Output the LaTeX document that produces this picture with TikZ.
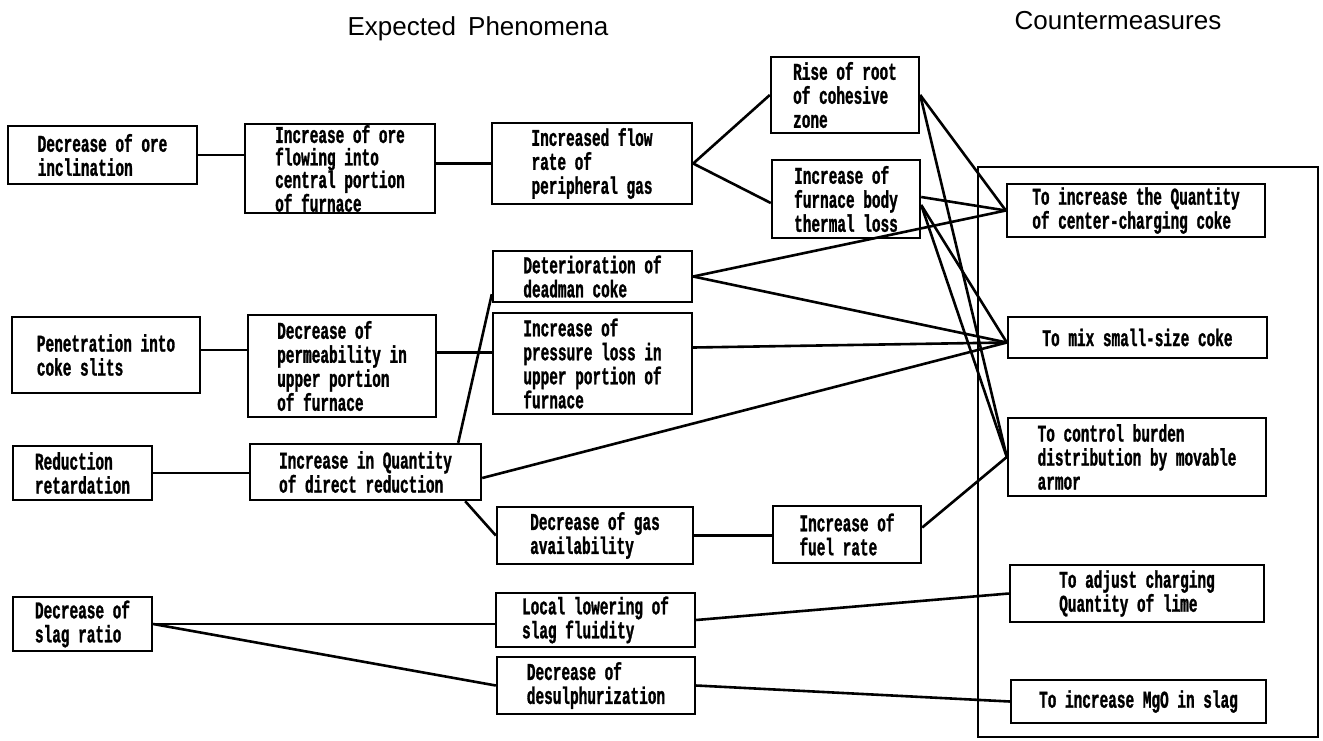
\documentclass[tikz,border=0pt]{standalone}
\usepackage{fontspec}
\setmainfont{Liberation Sans}
\newfontfamily\boxfont{Liberation Mono}[FakeStretch=0.6,FakeBold=1.2]
\newcommand{\mybox}[7][]{\node[bx, minimum width={(#5-#3)*1pt}, minimum height={(#6-#4)*1pt}, #1] (#2) at ({(#3+#5)/2},{(#4+#6)/2}) {#7};}
\begin{document}
\begin{tikzpicture}[x=1pt,y=-1pt,
  bx/.style={draw, line width=2.4pt, rectangle, align=left, inner sep=0pt,
    font={\boxfont\bfseries\fontsize{24}{24}\selectfont}},
  ln/.style={line width=2.6pt},
  title/.style={font={\fontsize{26}{30}\selectfont}}]
\useasboundingbox (0,0) rectangle (1323,740);
% titles
\node[title, anchor=base] (t1) at (478,35) {Expected\hspace{5pt} Phenomena};
\node[title, anchor=base] (t2) at (1118,29) {Countermeasures};
% frame
\node[draw, line width=1.3pt, minimum width=340pt, minimum height=570pt, inner sep=0pt] (frame) at (1148,452) {};
% boxes
\mybox{A1}{8}{126}{197}{184}{Decrease of ore\\inclination}
\mybox[font={\boxfont\bfseries\fontsize{24}{22.5}\selectfont}]{A2}{245}{124}{435}{213}{Increase of ore\\flowing into\\central portion\\of furnace}
\mybox{A3}{492}{123}{692}{204}{Increased flow\\rate of\\peripheral gas}
\mybox{A4}{771}{57}{919}{133}{Rise of root\\of cohesive\\zone}
\mybox{A5}{772}{160}{920}{238}{Increase of\\furnace body\\thermal loss}
\mybox{A6}{493}{251}{692}{302}{Deterioration of\\deadman coke}
\mybox{A7}{493}{313}{692}{414}{Increase of\\pressure loss in\\upper portion of\\furnace}
\mybox{B1}{12}{317}{200}{393}{Penetration into\\coke slits}
\mybox{B2}{248}{315}{436}{417}{Decrease of\\permeability in\\upper portion\\of furnace}
\mybox{D1}{13}{446}{152}{500}{Reduction\\retardation}
\mybox{D2}{250}{444}{481}{500}{Increase in Quantity\\of direct reduction}
\mybox{A8}{497}{507}{693}{564}{Decrease of gas\\availability}
\mybox{A9}{773}{506}{921}{563}{Increase of\\fuel rate}
\mybox{E1}{13}{597}{152}{651}{Decrease of\\slag ratio}
\mybox{E2}{496}{593}{695}{647}{Local lowering of\\slag fluidity}
\mybox{E3}{497}{657}{695}{714}{Decrease of\\desulphurization}
\mybox{C1}{1007}{184}{1265}{237}{To increase the Quantity\\of center-charging coke}
\mybox{C2}{1008}{317}{1267}{358}{To mix small-size coke}
\mybox{C3}{1008}{418}{1266}{496}{To control burden\\distribution by movable\\armor}
\mybox{C4}{1010}{565}{1264}{622}{To adjust charging\\Quantity of lime}
\mybox{C5}{1011}{680}{1266}{723}{To increase MgO in slag}
% helper coordinates
\coordinate (b1o) at ([yshift=5pt]B1.east);
\coordinate (a7i) at ([yshift=11pt]A7.west);
\coordinate (a7o) at ([yshift=16pt]A7.east);
\coordinate (c2i) at ([yshift=-5pt]C2.west);
\coordinate (a5a) at ([yshift=2pt]A5.east);
\coordinate (a5b) at ([yshift=-6pt]A5.east);
\coordinate (a5i) at ([yshift=-4pt]A5.west);
\coordinate (d2t) at ([xshift=-24pt]D2.north east);
\coordinate (d2b) at ([xshift=-17pt]D2.south east);
\coordinate (d2r) at ([yshift=-6pt]D2.east);
\coordinate (a6l) at ([yshift=9pt]A6.south west);
\coordinate (a9r) at ([yshift=7pt]A9.east);
% connectors
\draw[ln] (A1.east) -- (A1.east -| A2.west);
\draw[ln] (A2.east |- A3.west) -- (A3.west);
\draw[ln] (A3.east) -- (A4.west);
\draw[ln] (A3.east) -- (a5i);
\draw[ln] (b1o) -- (b1o -| B2.west);
\draw[ln] (B2.east |- a7i) -- (a7i);
\draw[ln] (D1.east) -- (D1.east -| D2.west);
\draw[ln] (d2t) -- (a6l);
\draw[ln] (d2b) -- (A8.west);
\draw[ln] (A8.east) -- (A8.east -| A9.west);
\draw[ln] (a9r) -- (C3.west);
\draw[ln] (A6.east) -- (C1.west);
\draw[ln] (A6.east) -- (c2i);
\draw[ln] (a7o) -- (c2i);
\draw[ln] (d2r) -- (c2i);
\draw[ln] (A4.east) -- (C1.west);
\draw[ln] (A4.east) -- (C3.west);
\draw[ln] (a5a) -- (C1.west);
\draw[ln] (a5b) -- (c2i);
\draw[ln] (a5b) -- (C3.west);
\draw[ln] (E1.east) -- (E1.east -| E2.west);
\draw[ln] (E1.east) -- (E3.west);
\draw[ln] (E2.east) -- (C4.west);
\draw[ln] (E3.east) -- (C5.west);
\end{tikzpicture}
\end{document}
